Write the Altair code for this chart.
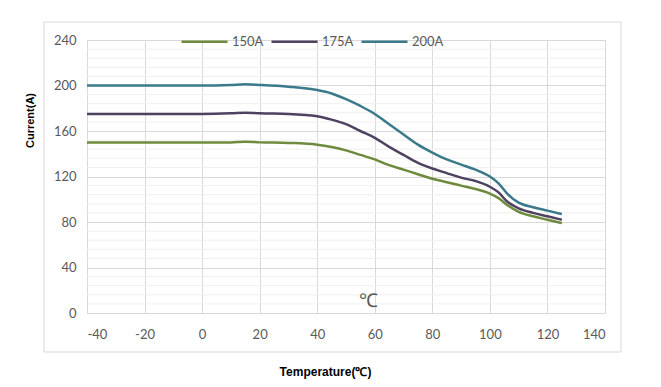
import altair as alt
import pandas as pd

temps = [-40, -20, 0, 10, 15, 20, 30, 40, 45, 50, 55, 60, 65, 70, 75, 80, 85, 90, 95, 100, 103, 106, 110, 115, 120, 125]
i150 = [150, 150, 150, 150, 150.5, 150, 149.5, 148, 146, 143, 139, 135, 130, 126, 122, 118, 115, 112, 109, 105, 101, 95, 89, 85, 82, 79]
i175 = [175, 175, 175, 175.5, 176, 175.5, 175, 173, 170, 166, 160, 154, 146, 139, 132, 127, 123, 119, 116, 111, 106, 98, 92, 88, 85, 82]
i200 = [200, 200, 200, 200.5, 201, 200.5, 199, 196, 193, 188, 182, 175, 166, 157, 148, 141, 135, 130.5, 126, 120, 114, 105, 97, 93, 90, 87]
series = ["150A", "175A", "200A"]
colors = ["#6e8b3d", "#4e4260", "#3b7a8a"]
x_ticks = [-40, -20, 0, 20, 40, 60, 80, 100, 120, 140]
y_ticks = [0, 40, 80, 120, 160, 200, 240]
minor_y = [v for v in range(8, 240, 8) if v % 40 != 0]

rows = []
for name, vals in zip(series, [i150, i175, i200]):
    for t, v in zip(temps, vals):
        rows.append({"T": t, "I": v, "s": name})
df = pd.DataFrame(rows)
minor_df = pd.DataFrame({"m": minor_y})

FONT = "Lato"
xscale = alt.Scale(domain=[-40, 140], nice=False, zero=False)
yscale = alt.Scale(domain=[0, 240], nice=False)

yaxis = alt.Axis(values=y_ticks, title="Current(A)", grid=True, gridColor="#d9d9d9",
                 domain=False, ticks=False, labelPadding=11, labelFontSize=13,
                 labelColor="#595959", labelFont=FONT,
                 titleFont="Liberation Sans", titleFontSize=11, titleFontWeight="bold",
                 titleColor="#000000", titleX=-57, titleY=80, titleBaseline="middle",
                 titleAngle=270)
xaxis = alt.Axis(values=x_ticks, title="Temperature(℃)", grid=True, gridColor="#d9d9d9",
                 domain=False, ticks=False, labelPadding=15, labelFontSize=13,
                 labelColor="#595959", labelFont=FONT,
                 labelExpr="toString(datum.value)",
                 titleFont="Liberation Sans", titleFontSize=12, titleFontWeight="bold",
                 titleColor="#000000", titleX=238, titleY=58, titleBaseline="middle")

minor = alt.Chart(minor_df).mark_rule(color="#efefef", strokeWidth=1).encode(
    y=alt.Y("m:Q", scale=yscale, axis=yaxis, title="Current(A)")
)

lines = alt.Chart(df).mark_line(interpolate="monotone", strokeWidth=2.5).encode(
    x=alt.X("T:Q", scale=xscale, axis=xaxis),
    y=alt.Y("I:Q", scale=yscale, axis=yaxis),
    color=alt.Color("s:N", scale=alt.Scale(domain=series, range=colors),
                    legend=alt.Legend(title=None, orient="none", direction="horizontal",
                                      legendX=93, legendY=-23, symbolType="stroke",
                                      symbolSize=2116, symbolStrokeWidth=2.5,
                                      labelFontSize=13, labelColor="#595959", labelFont=FONT,
                                      labelOffset=3, columnPadding=2)),
)

border = alt.Chart(pd.DataFrame({"a": [0]})).mark_rect(
    fill=None, stroke="#d9d9d9", strokeWidth=1
).encode(x=alt.value(-43), x2=alt.value(534), y=alt.value(-18), y2=alt.value(312))

unit = alt.Chart(pd.DataFrame({"t": ["℃"]})).mark_text(
    fontSize=19, color="#595959", font="Liberation Sans"
).encode(text="t:N", x=alt.value(281), y=alt.value(261))

chart = alt.layer(border, minor, lines, unit).properties(
    width=518, height=273,
    autosize=alt.AutoSizeParams(type="none"),
    padding={"left": 79, "top": 32, "right": 48, "bottom": 66},
).configure_view(stroke="#d9d9d9").configure(background="white")

chart.save("out.html", embed_options={"renderer": "svg", "actions": False})
